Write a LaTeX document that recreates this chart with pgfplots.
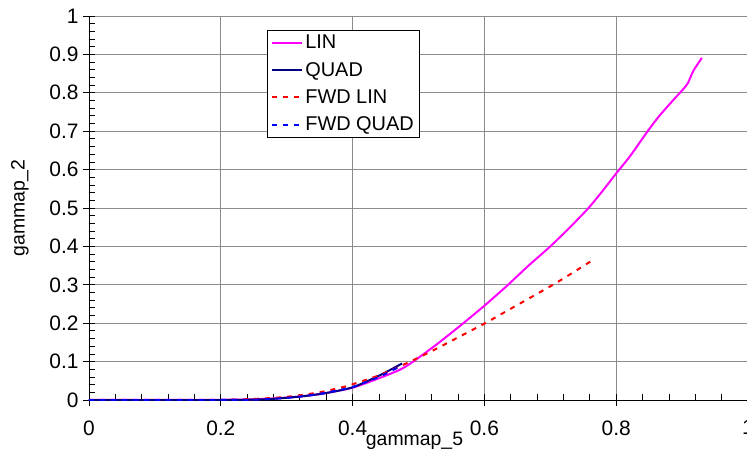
\documentclass[border=0pt]{standalone}
\usepackage{pgfplots}
\pgfplotsset{compat=1.18}
\usepackage{fontspec}
\setmainfont{Liberation Sans}
\definecolor{lin}{RGB}{255,0,255}
\definecolor{quad}{RGB}{0,0,128}
\definecolor{fwdlin}{RGB}{255,0,0}
\definecolor{fwdquad}{RGB}{0,0,255}
\begin{document}
\begin{tikzpicture}
\begin{axis}[
  at={(0,0)}, anchor=south west,
  scale only axis, width=659bp, height=384bp,
  xmin=0, xmax=1, ymin=0, ymax=1,
  axis x line=bottom, axis y line=left,
  axis line style={-, black, line width=0.8bp},
  xtick={0,0.2,0.4,0.6,0.8,1},
  ytick={0,0.1,0.2,0.3,0.4,0.5,0.6,0.7,0.8,0.9,1},
  yticklabels={0,0.1,0.2,0.3,0.4,0.5,0.6,0.7,0.8,0.9,1},
  xticklabels={0,0.2,0.4,0.6,0.8,1},
  minor x tick num=4, minor y tick num=4,
  grid=major, major grid style={gray!90, line width=0.8bp},
  tick align=inside,
  major tick length=12bp, minor tick length=6bp,
  tick style={black, line width=0.8bp},
  every major x tick/.append style={yshift=-6bp},
  every major y tick/.append style={xshift=-6bp},
  ticklabel style={font=\fontsize{21}{24}\selectfont},
  yticklabel style={xshift=-7bp},
  xticklabel style={yshift=-17bp},
  xlabel={gammap\_5}, ylabel={gammap\_2},
  label style={font=\fontsize{19.5}{23}\selectfont},
  xlabel style={yshift=10bp, xshift=-4bp},
  ylabel style={yshift=14bp},
  legend image code/.code={\draw[#1] (0bp,0bp) -- (30bp,0bp);},
  legend style={at={(0.27,0.964)}, anchor=north west, draw=black, line width=0.8bp,
    font=\fontsize{20}{23}\selectfont, inner xsep=4bp, inner ysep=3bp,
    row sep=8bp, cells={anchor=west}},
]
\addplot[lin, line width=2bp, smooth, tension=0.4] coordinates {
(0,0) (0.2,0.0005) (0.25,0.002) (0.28,0.004) (0.32,0.009) (0.356,0.017)
(0.4,0.032) (0.442,0.058) (0.472,0.079) (0.492,0.1) (0.53,0.148) (0.568,0.2)
(0.601,0.247) (0.634,0.297) (0.667,0.35) (0.700,0.400) (0.73,0.45) (0.758,0.5)
(0.78,0.546) (0.8,0.59) (0.821,0.635) (0.849,0.703) (0.866,0.741) (0.885,0.778)
(0.903,0.812) (0.909,0.826) (0.917,0.857) (0.930,0.891)};
\addlegendentry{LIN}
\addplot[quad, line width=2bp, smooth, tension=0.4] coordinates {
(0,0) (0.2,0) (0.25,0.001) (0.28,0.003) (0.32,0.009) (0.356,0.017) (0.4,0.033)
(0.442,0.065) (0.475,0.095)};
\addlegendentry{QUAD}
\addplot[fwdlin, line width=2bp, dash pattern=on 5bp off 6bp, smooth, tension=0.4] coordinates {
(0,0) (0.2,0.0005) (0.239,0.002) (0.265,0.004) (0.292,0.007) (0.315,0.011)
(0.335,0.016) (0.356,0.022) (0.391,0.036) (0.407,0.045) (0.440,0.064) (0.462,0.08)
(0.491,0.103) (0.522,0.129) (0.601,0.2) (0.634,0.232) (0.707,0.303) (0.765,0.365)};
\addlegendentry{FWD LIN}
\addplot[fwdquad, line width=2bp, dash pattern=on 5bp off 6bp, smooth, tension=0.4] coordinates {
(0,0) (0.2,0) (0.25,0.001) (0.28,0.003) (0.32,0.009) (0.356,0.018) (0.4,0.034)
(0.44,0.06) (0.47,0.086)};
\addlegendentry{FWD QUAD}
\end{axis}
\pgfresetboundingbox
\path[use as bounding box] (-89bp,-68bp) rectangle (658bp,400bp);
\end{tikzpicture}
\end{document}
